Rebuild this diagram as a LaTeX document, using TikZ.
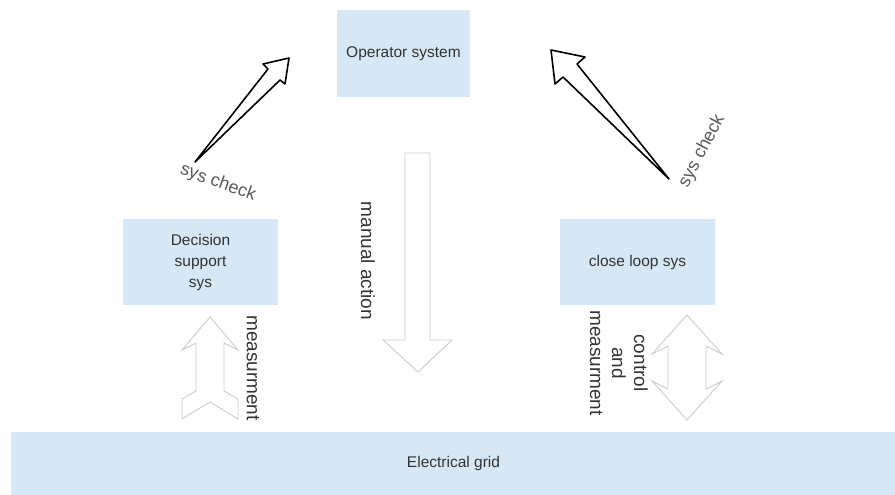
\documentclass[tikz,border=0pt]{standalone}
\usepackage{fontspec}
\setmainfont{Liberation Sans}
\usepackage{xcolor}

\definecolor{boxblue}{RGB}{214,232,246}
\definecolor{txtgray}{RGB}{51,51,51}

\begin{document}
\begin{tikzpicture}[x=1pt, y=-1pt,
    box/.style={fill=boxblue, draw=none, text=txtgray, align=center, inner sep=0pt,
                font=\fontsize{15.5}{21}\selectfont},
    lbl/.style={text=txtgray, align=center, inner sep=0pt, font=\fontsize{19}{22}\selectfont},
    chk/.style={text=black!65, inner sep=0pt, font=\fontsize{18}{20}\selectfont},
    blockarrow/.style={draw=black, line width=1.6pt, fill=white, line join=round},
    ghostarrow/.style={draw=black!20, line width=0.9pt, fill=white, line join=miter}]

    \useasboundingbox (0,0) rectangle (895,495);

    % Boxes
    \node[box, minimum width=133pt, minimum height=87pt] (op) at (403.5,53.5) {Operator system};
    \node[box, minimum width=155pt, minimum height=86pt] (dss) at (200.5,262) {Decision\\support\\sys};
    \node[box, minimum width=155pt, minimum height=86pt] (cls) at (637.5,262) {close loop sys};
    \node[box, minimum width=885pt, minimum height=63pt] (grid) at (453.5,463.5) {Electrical grid};

    % sys check arrows (tapering to a point at the tail)
    \draw[blockarrow] (195,162) -- (268,69) -- (263,64) -- (289,58)
        -- (285,84) -- (280,80) -- cycle;
    \draw[blockarrow] (669,179) -- (563,77) -- (555,84) -- (551,50)
        -- (585,57) -- (577,64) -- cycle;
    \node[chk, rotate=-20] (chkl) at (218,183) {sys check};
    \node[chk, rotate=62] (chkr) at (702,151) {sys check};

    % manual action
    \draw[ghostarrow] (405,153) -- (430,153) -- (430,340) -- (452,340)
        -- (418,372) -- (383,340) -- (405,340) -- cycle;
    \node[lbl, rotate=-90] (man) at (368,261) {manual action};

    % measurment
    \draw[ghostarrow] (210,317) -- (238,350) -- (224,343) -- (224,391) -- (238,399)
        -- (238,419) -- (210,402) -- (182,419) -- (182,399) -- (196,391)
        -- (196,343) -- (182,350) -- cycle;
    \node[lbl, rotate=-90] (meas) at (253,368) {measurment};

    % control and measurment
    \draw[ghostarrow] (687,315) -- (722,354) -- (706,346) -- (706,389) -- (722,381)
        -- (687,420) -- (652,381) -- (668,389) -- (668,346) -- (652,354) -- cycle;
    \node[lbl, rotate=-90] (ctrl) at (619,363) {control\\and\\measurment};
\end{tikzpicture}
\end{document}
